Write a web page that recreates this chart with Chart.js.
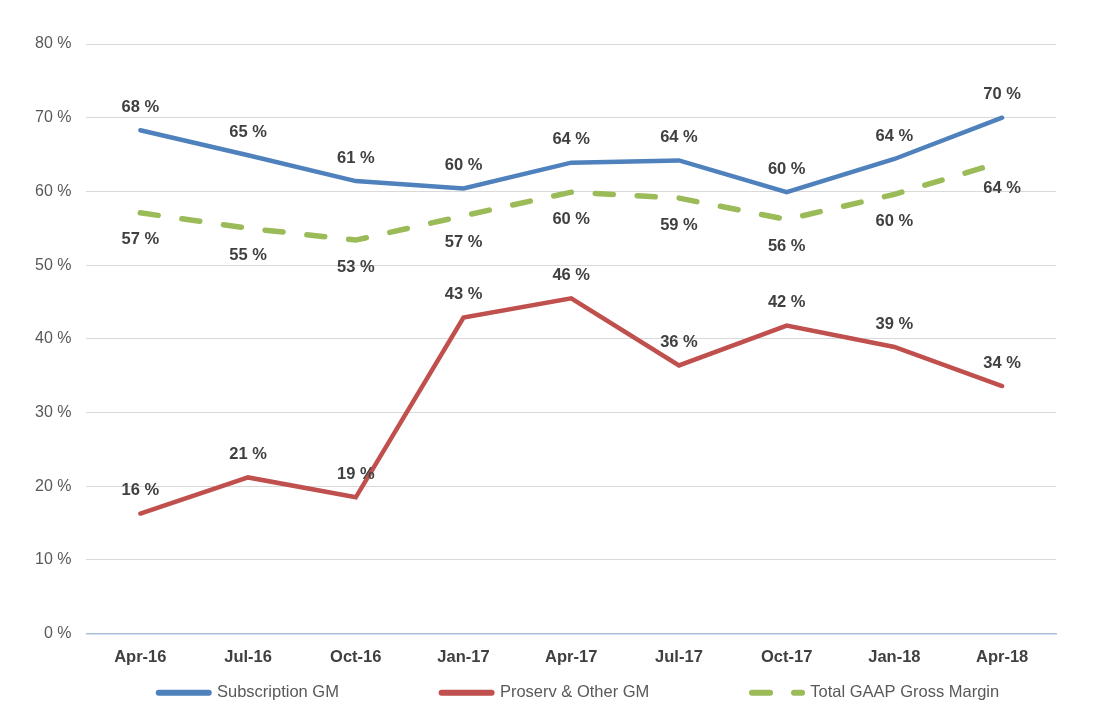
<!DOCTYPE html>
<html>
<head>
<meta charset="utf-8">
<script src="https://cdn.jsdelivr.net/npm/chart.js@4.4.1/dist/chart.umd.min.js"></script>
<style>
  html, body { margin: 0; padding: 0; background: #fff; }
  #wrap { width: 1114px; height: 720px; }
</style>
</head>
<body>
<div id="wrap"><canvas id="gmChart"></canvas></div>
<script>
const quarters = ['Apr-16', 'Jul-16', 'Oct-16', 'Jan-17', 'Apr-17', 'Jul-17', 'Oct-17', 'Jan-18', 'Apr-18'];
const subscriptionGM = [68.3, 64.9, 61.4, 60.4, 63.9, 64.2, 59.9, 64.4, 70.0];
const proservGM = [16.3, 21.2, 18.5, 42.9, 45.5, 36.4, 41.8, 38.9, 33.6];
const totalGAAP = [57.1, 55.0, 53.4, 56.7, 59.9, 59.1, 56.2, 59.6, 64.0];
const yTicks = [0, 10, 20, 30, 40, 50, 60, 70, 80];

const FONT = '"Liberation Sans", Arial, sans-serif';

// draws "xx %" next to each point, above or below
const pointLabels = {
    id: 'pointLabels',
    afterDatasetsDraw(chart) {
        const ctx = chart.ctx;
        ctx.save();
        ctx.font = 'bold 16.5px ' + FONT;
        ctx.fillStyle = '#404040';
        ctx.textAlign = 'center';
        ctx.textBaseline = 'middle';
        chart.data.datasets.forEach((ds, i) => {
            const meta = chart.getDatasetMeta(i);
            meta.data.forEach((pt, j) => {
                const txt = Math.round(ds.data[j]) + ' %';
                ctx.fillText(txt, pt.x, pt.y + ds.labelOffset);
            });
        });
        ctx.restore();
    }
};

const ctx = document.getElementById('gmChart');
new Chart(ctx, {
    type: 'line',
    data: {
        labels: quarters,
        datasets: [{
            label: 'Subscription GM',
            data: subscriptionGM,
            borderColor: '#4F81BD',
            backgroundColor: '#4F81BD',
            borderWidth: 4.5,
            borderCapStyle: 'round',
            pointRadius: 0,
            tension: 0,
            labelOffset: -23
        }, {
            label: 'Proserv & Other GM',
            data: proservGM,
            borderColor: '#C0504D',
            backgroundColor: '#C0504D',
            borderWidth: 4.5,
            borderCapStyle: 'round',
            pointRadius: 0,
            tension: 0,
            labelOffset: -23
        }, {
            label: 'Total GAAP Gross Margin',
            data: totalGAAP,
            borderColor: '#9BBB59',
            backgroundColor: '#9BBB59',
            borderWidth: 5.5,
            borderDash: [18, 24],
            borderCapStyle: 'round',
            pointRadius: 0,
            tension: 0,
            labelOffset: 27
        }]
    },
    options: {
        responsive: true,
        maintainAspectRatio: false,
        animation: false,
        layout: {
            padding: { top: 44, right: 58, left: 20, bottom: 9 }
        },
        scales: {
            x: {
                offset: true,
                grid: { display: false },
                border: { color: '#A9C0DD', width: 1.5 },
                ticks: {
                    color: '#404040',
                    padding: 6,
                    font: { family: FONT, size: 16.5, weight: 'bold' }
                }
            },
            y: {
                min: 0,
                max: 80,
                afterBuildTicks(axis) {
                    axis.ticks = yTicks.map(v => ({ value: v }));
                },
                grid: { color: '#D9D9D9', drawTicks: false },
                border: { display: false },
                ticks: {
                    color: '#595959',
                    padding: 15,
                    font: { family: FONT, size: 16 },
                    callback: v => v + ' %'
                }
            }
        },
        plugins: {
            legend: {
                position: 'bottom',
                align: 'end',
                labels: {
                    usePointStyle: true,
                    pointStyle: 'line',
                    pointStyleWidth: 50,
                    boxHeight: 16,
                    padding: 11,
                    color: '#595959',
                    font: { family: FONT, size: 16.5 },
                    generateLabels(chart) {
                        const items = Chart.defaults.plugins.legend.labels.generateLabels(chart);
                        const last = items.length - 1;
                        return items.map((it, i) => {
                            const ds = chart.data.datasets[it.datasetIndex];
                            it.lineDash = ds.borderDash || [];
                            it.lineCap = 'round';
                            it.lineWidth = 6;
                            it.strokeStyle = ds.borderColor;
                            // widen the gap between legend entries
                            it.text = it.text + ' '.repeat(i < last ? 20 : 10);
                            return it;
                        });
                    }
                }
            },
            tooltip: { enabled: false }
        }
    },
    plugins: [pointLabels]
});
</script>
</body>
</html>
